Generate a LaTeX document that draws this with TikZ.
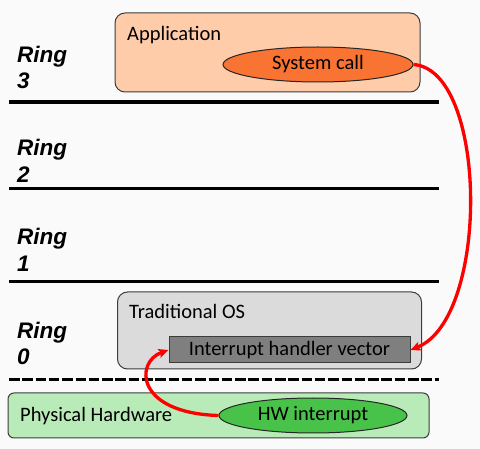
\documentclass[tikz,border=0pt]{standalone}
\usepackage{fontspec}
\setmainfont{Carlito}
\newfontfamily\ringfont{Liberation Sans}
\usetikzlibrary{shapes.geometric,arrows.meta}
\definecolor{bgc}{RGB}{250,250,250}
\definecolor{appfill}{RGB}{255,204,170}
\definecolor{callfill}{RGB}{249,116,50}
\definecolor{osfill}{RGB}{219,219,219}
\definecolor{ihfill}{RGB}{127,127,127}
\definecolor{hwfill}{RGB}{185,235,185}
\definecolor{hwell}{RGB}{72,194,72}
\definecolor{edge}{RGB}{60,60,60}
\tikzset{
  box/.style={draw=edge, line width=1pt, rounded corners=10pt, inner sep=0pt},
  ell/.style={ellipse, draw=black!85, line width=1pt, inner sep=0pt, font=\fontsize{20.5}{24}\selectfont},
  lbl/.style={inner sep=0pt, font=\fontsize{20.5}{24}\selectfont},
  ringlbl/.style={inner sep=0pt, font=\ringfont\bfseries\itshape\fontsize{22.5}{26}\selectfont},
  ringline/.style={line width=3.2pt, black},
  redarrow/.style={draw=red, line width=3.3pt, -{Stealth[length=10pt,width=9pt,inset=2pt]}}
}
\begin{document}
\begin{tikzpicture}[x=1pt,y=-1pt]
\useasboundingbox[fill=bgc] (0,0) rectangle (480,449);
% boxes
\node[box, fill=appfill, minimum width=305pt, minimum height=79pt] (app) at (267.5,52.5) {};
\node[lbl, anchor=base west] (apptxt) at (127,41) {Application};
\node[ell, fill=callfill, minimum width=190pt, minimum height=35pt] (call) at (318,64.5) {System call};
\node[box, fill=osfill, minimum width=304pt, minimum height=77pt] (os) at (269.5,330.5) {};
\node[lbl, anchor=base west] (ostxt) at (129,319) {Traditional OS};
\node[draw=edge, line width=1pt, fill=ihfill, minimum width=241pt, minimum height=26pt, inner sep=0pt, font=\fontsize{20.5}{24}\selectfont] (ih) at (289.5,350) {Interrupt handler vector};
\node[box, rounded corners=6pt, fill=hwfill, minimum width=421pt, minimum height=45pt] (hw) at (218.5,415.5) {};
\node[lbl, anchor=base west] (hwtxt) at (20,422) {Physical Hardware};
\node[ell, fill=hwell, minimum width=188pt, minimum height=35pt] (hwi) at (313,415.5) {HW interrupt};
% ring lines
\draw[ringline] (9,102) -- (439,102);
\draw[ringline] (9,188.7) -- (439,188.7);
\draw[ringline] (9,281.5) -- (439,281.5);
\draw[ringline, line width=3.5pt, dash pattern=on 10.5pt off 2.8pt] (9,379.3) -- (439,379.3);
% ring labels
\node[ringlbl, anchor=base west] (r3a) at (17,63) {Ring};
\node[ringlbl, anchor=base west] (r3b) at (17,89) {3};
\node[ringlbl, anchor=base west] (r2a) at (17,155.7) {Ring};
\node[ringlbl, anchor=base west] (r2b) at (17,182.7) {2};
\node[ringlbl, anchor=base west] (r1a) at (17,245) {Ring};
\node[ringlbl, anchor=base west] (r1b) at (17,271.7) {1};
\node[ringlbl, anchor=base west] (r0a) at (17,339) {Ring};
\node[ringlbl, anchor=base west] (r0b) at (17,365) {0};
% arrows
\draw[redarrow] (call.east) .. controls (488,70) and (490,318) .. (ih.east);
\draw[redarrow] (hwi.west) .. controls (135,413) and (135,362) .. (ih.west);
\end{tikzpicture}
\end{document}
